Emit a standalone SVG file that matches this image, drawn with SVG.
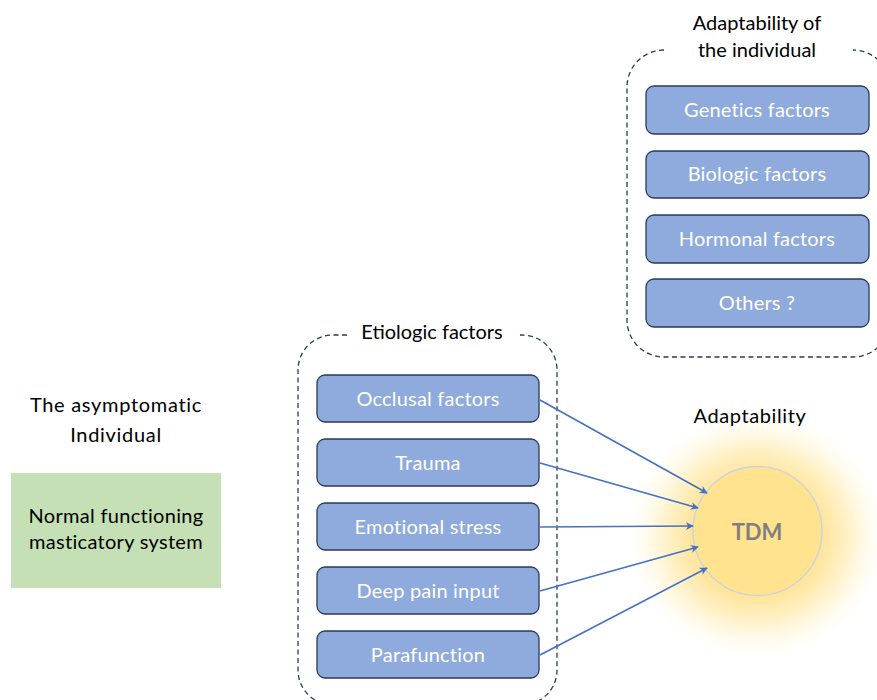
<svg xmlns="http://www.w3.org/2000/svg" width="877" height="700" viewBox="0 0 877 700">
<defs>
<style>
.t{font-family:Lato,"Liberation Sans",sans-serif;}
.box{fill:#8faadc;stroke:#2b3a55;stroke-width:1.3;}
.bt{fill:#ffffff;font-size:20px;text-anchor:middle;letter-spacing:0.2px;}
.dash{fill:none;stroke:#2b3a55;stroke-width:1.3;stroke-dasharray:5 3.5;}
.lbl{fill:#000;font-size:20px;text-anchor:middle;}
.arr{stroke:#4472c4;stroke-width:1.6;fill:none;marker-end:url(#ah);}
</style>
<marker id="ah" viewBox="0 0 10 10" refX="9" refY="5" markerWidth="8" markerHeight="8" markerUnits="userSpaceOnUse" orient="auto">
<path d="M0,0 L10,5 L0,10 L3,5 Z" fill="#4472c4"/>
</marker>
<radialGradient id="glow" cx="0.5" cy="0.5" r="0.5">
<stop offset="0.45" stop-color="#ffe08a" stop-opacity="1"/>
<stop offset="0.7" stop-color="#ffe79f" stop-opacity="0.6"/>
<stop offset="1" stop-color="#fff4cc" stop-opacity="0"/>
</radialGradient>
</defs>
<rect width="877" height="700" fill="#ffffff"/>

<g id="asymptomatic">
<text class="t lbl" x="116" y="412" font-size="23" letter-spacing="0.7">The asymptomatic</text>
<text class="t lbl" x="116" y="442" font-size="23" letter-spacing="0.7">Individual</text>
</g>
<g id="normal">
<rect x="11" y="473" width="210" height="115" fill="#c5e0b4"/>
<text class="t" x="116" y="523" font-size="20" letter-spacing="0.3" text-anchor="middle" fill="#000">Normal functioning</text>
<text class="t" x="116" y="549" font-size="20" letter-spacing="0.3" text-anchor="middle" fill="#000">masticatory system</text>
</g>

<g id="etiologic-group">
<path class="dash" d="M347,335 H333 A35,35 0 0 0 298,370 V670 A35,35 0 0 0 333,705 H522 A35,35 0 0 0 557,670 V370 A35,35 0 0 0 522,335 H520"/>
<text class="t lbl" x="432" y="339" font-size="19.5">Etiologic factors</text>
</g>
<g id="occlusal"><rect class="box" x="317" y="375" width="222" height="47" rx="8"/><text class="t bt" x="428" y="406">Occlusal factors</text></g>
<g id="trauma"><rect class="box" x="317" y="439" width="222" height="47" rx="8"/><text class="t bt" x="428" y="470">Trauma</text></g>
<g id="emotional"><rect class="box" x="317" y="503" width="222" height="47" rx="8"/><text class="t bt" x="428" y="534">Emotional stress</text></g>
<g id="deep"><rect class="box" x="317" y="567" width="222" height="47" rx="8"/><text class="t bt" x="428" y="598">Deep pain input</text></g>
<g id="parafunction"><rect class="box" x="317" y="631" width="222" height="47" rx="8"/><text class="t bt" x="428" y="662">Parafunction</text></g>

<g id="adaptability-group">
<path class="dash" d="M664,50 A37,37 0 0 0 627,87 V320 A37,37 0 0 0 664,357 H853 A37,37 0 0 0 890,320 V87 A37,37 0 0 0 853,50"/>
<text class="t lbl" x="757" y="30" font-size="20">Adaptability of</text>
<text class="t lbl" x="757" y="57" font-size="20">the individual</text>
</g>
<g id="genetics"><rect class="box" x="646" y="86" width="223" height="48" rx="8"/><text class="t bt" x="757" y="117">Genetics factors</text></g>
<g id="biologic"><rect class="box" x="646" y="151" width="223" height="47" rx="8"/><text class="t bt" x="757" y="181">Biologic factors</text></g>
<g id="hormonal"><rect class="box" x="646" y="215" width="223" height="48" rx="8"/><text class="t bt" x="757" y="246">Hormonal factors</text></g>
<g id="others"><rect class="box" x="646" y="279" width="223" height="48" rx="8"/><text class="t bt" x="757" y="310">Others  ?</text></g>

<g id="tdm">
<ellipse cx="757" cy="535" rx="128" ry="122" fill="url(#glow)"/>
<circle cx="757.5" cy="531" r="64.5" fill="#ffe38f" stroke="#c5d3ea" stroke-width="1.3"/>
<text class="t" x="757" y="540" font-size="22" font-weight="bold" text-anchor="middle" fill="#7f7f7f">TDM</text>
<text class="t lbl" x="750" y="423" font-size="24" letter-spacing="0.6">Adaptability</text>
</g>

<g id="connectors">
<line class="arr" x1="540" y1="400" x2="707" y2="493"/>
<line class="arr" x1="540" y1="463" x2="698" y2="508"/>
<line class="arr" x1="540" y1="527" x2="693" y2="526"/>
<line class="arr" x1="540" y1="591" x2="698" y2="547"/>
<line class="arr" x1="540" y1="655" x2="707" y2="568"/>
</g>
</svg>
